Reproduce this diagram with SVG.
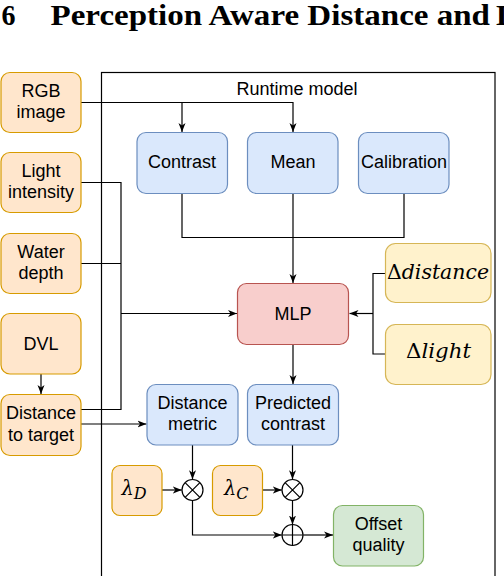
<svg xmlns="http://www.w3.org/2000/svg" width="504" height="576" viewBox="0 0 504 576">
<defs>
<marker id="arr" markerUnits="userSpaceOnUse" markerWidth="9" markerHeight="8" refX="9" refY="4" orient="auto">
<path d="M0,0.5 L9,4 L0,7.5 L2.5,4 Z" fill="#000"/>
</marker>
</defs>
<style>
.t{font-family:"Liberation Sans",Arial,sans-serif;font-size:18px;fill:#000;text-anchor:middle}
.m{font-family:"DejaVu Serif","Liberation Serif",serif;font-size:19.5px;fill:#000}
.or{fill:#ffe6cc;stroke:#d79b00;stroke-width:1.2}
.bl{fill:#dae8fc;stroke:#6c8ebf;stroke-width:1.2}
.rd{fill:#f8cecc;stroke:#b85450;stroke-width:1.2}
.ye{fill:#fff2cc;stroke:#d6b656;stroke-width:1.2}
.gr{fill:#d5e8d4;stroke:#82b366;stroke-width:1.2}
.c{fill:none;stroke:#000;stroke-width:1.2}
.a{marker-end:url(#arr)}
</style>
<rect width="504" height="576" fill="#fff"/>
<g id="title" font-family="'Liberation Serif','Times New Roman',serif" font-weight="bold" font-size="29">
<text x="1.5" y="24.5" textLength="14" lengthAdjust="spacingAndGlyphs">6</text>
<text x="50.5" y="24.5" textLength="439.5" lengthAdjust="spacingAndGlyphs">Perception Aware Distance and</text>
<text x="496" y="24.5" textLength="21" lengthAdjust="spacingAndGlyphs">L</text>
</g>
<g id="runtime">
<rect x="101.5" y="72.5" width="393.5" height="520" fill="none" stroke="#000" stroke-width="1.2"/>
<text class="t" x="297" y="95">Runtime model</text>
</g>
<g id="connectors">
<path class="c a" d="M81,102.5 H293 V132"/>
<path class="c a" d="M182,102.5 V132"/>
<path class="c" d="M182,193.5 V237.5 H404 V193.5"/>
<path class="c a" d="M293,193.5 V283"/>
<path class="c" d="M81,182.5 H121 V409.5 H81"/>
<path class="c" d="M81,263.5 H121"/>
<path class="c a" d="M121,313.5 H237"/>
<path class="c a" d="M81,424 H146.5"/>
<path class="c a" d="M41,374 V394"/>
<path class="c" d="M385.5,273.5 H373 V354 H385.5"/>
<path class="c a" d="M373,313.5 H349.5"/>
<path class="c a" d="M293,344.5 V384"/>
<path class="c a" d="M192.5,445 V479.3"/>
<path class="c a" d="M162,490 H181.8"/>
<path class="c a" d="M292.5,445 V479.3"/>
<path class="c a" d="M262.5,490 H281.8"/>
<path class="c a" d="M292.5,500.7 V524.5"/>
<path class="c a" d="M192.5,500.7 V535 H281.8"/>
<path class="c a" d="M303.2,535 H333"/>
</g>
<g id="rgb"><rect class="or" x="1" y="72.5" width="80" height="60" rx="9"/><text class="t" x="41" y="96.5">RGB</text><text class="t" x="41" y="118">image</text></g>
<g id="light"><rect class="or" x="1" y="152.5" width="80" height="60" rx="9"/><text class="t" x="41" y="176.5">Light</text><text class="t" x="41" y="198">intensity</text></g>
<g id="water"><rect class="or" x="1" y="233.5" width="80" height="60" rx="9"/><text class="t" x="41" y="257.5">Water</text><text class="t" x="41" y="279">depth</text></g>
<g id="dvl"><rect class="or" x="1" y="313.5" width="80" height="60.5" rx="9"/><text class="t" x="41" y="349.5">DVL</text></g>
<g id="dtt"><rect class="or" x="1" y="394.5" width="80" height="61" rx="9"/><text class="t" x="41" y="419">Distance</text><text class="t" x="41" y="440.5">to target</text></g>
<g id="contrast"><rect class="bl" x="137" y="132.5" width="90.5" height="61" rx="9"/><text class="t" x="182" y="168">Contrast</text></g>
<g id="mean"><rect class="bl" x="247.5" y="132.5" width="90.5" height="61" rx="9"/><text class="t" x="293" y="168">Mean</text></g>
<g id="calibration"><rect class="bl" x="358.5" y="132.5" width="90.5" height="61" rx="9"/><text class="t" x="404" y="168">Calibration</text></g>
<g id="mlp"><rect class="rd" x="237.5" y="283.5" width="111" height="61" rx="9"/><text class="t" x="293" y="319.5">MLP</text></g>
<g id="ddist"><rect class="ye" x="385.5" y="243.5" width="105.5" height="59" rx="10"/><text class="m" x="387" y="279" textLength="102" lengthAdjust="spacingAndGlyphs">Δ<tspan font-style="italic">distance</tspan></text></g>
<g id="dlight"><rect class="ye" x="385.5" y="324.5" width="105.5" height="60" rx="10"/><text class="m" x="406" y="358" textLength="65" lengthAdjust="spacingAndGlyphs">Δ<tspan font-style="italic">light</tspan></text></g>
<g id="distmetric"><rect class="bl" x="147" y="384.5" width="91" height="60.5" rx="9"/><text class="t" x="192.5" y="408.7">Distance</text><text class="t" x="192.5" y="430">metric</text></g>
<g id="predcontrast"><rect class="bl" x="247.5" y="384.5" width="91" height="60.5" rx="9"/><text class="t" x="293" y="408.7">Predicted</text><text class="t" x="293" y="430">contrast</text></g>
<g id="lambdaD"><rect class="or" x="112" y="465.5" width="50" height="50" rx="8"/><text class="m" x="121.5" y="494.5" font-size="23" font-style="italic">λ<tspan font-size="16" dy="4">D</tspan></text></g>
<g id="lambdaC"><rect class="or" x="212.5" y="465.5" width="50" height="50" rx="8"/><text class="m" x="224" y="494.5" font-size="23" font-style="italic">λ<tspan font-size="16" dy="4">C</tspan></text></g>
<g id="mul1"><circle cx="192.5" cy="490" r="10.5" fill="#fff" stroke="#000" stroke-width="1.2"/><path class="c" d="M185.1,482.6 L199.9,497.4 M199.9,482.6 L185.1,497.4"/></g>
<g id="mul2"><circle cx="292.5" cy="490" r="10.5" fill="#fff" stroke="#000" stroke-width="1.2"/><path class="c" d="M285.1,482.6 L299.9,497.4 M299.9,482.6 L285.1,497.4"/></g>
<g id="add"><circle cx="292.5" cy="535" r="10.5" fill="#fff" stroke="#000" stroke-width="1.2"/><path class="c" d="M282,535 H303 M292.5,524.5 V545.5"/></g>
<g id="offset"><rect class="gr" x="333.5" y="505.5" width="90" height="60.5" rx="9"/><text class="t" x="378.5" y="530">Offset</text><text class="t" x="378.5" y="551">quality</text></g>
</svg>
